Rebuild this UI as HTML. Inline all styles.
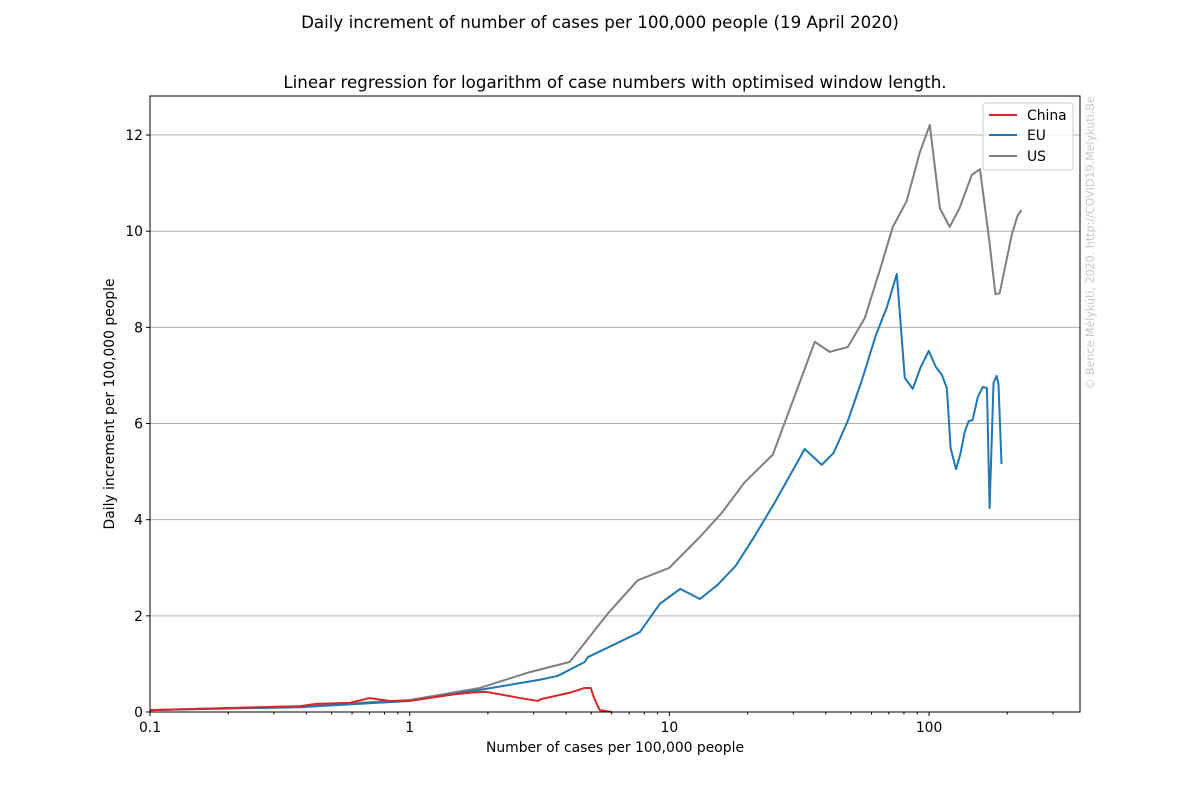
<!DOCTYPE html>
<html><head><meta charset="utf-8"><style>
body{margin:0;background:#fff;}
svg{display:block;font-family:"DejaVu Sans","Liberation Sans",sans-serif;}
</style></head><body>
<svg id="c" width="1200" height="800">
<text x="600" y="28" font-size="16.7" text-anchor="middle">Daily increment of number of cases per 100,000 people (19 April 2020)</text>
<text x="615" y="88" font-size="16.7" text-anchor="middle">Linear regression for logarithm of case numbers with optimised window length.</text>
<text x="615" y="752" font-size="13.9" text-anchor="middle">Number of cases per 100,000 people</text>
<text transform="translate(114,404) rotate(-90)" font-size="13.9" text-anchor="middle">Daily increment per 100,000 people</text>
<text transform="translate(1094,243) rotate(-90)" font-size="11.1" fill="#c8c8c8" text-anchor="middle">© Bence Mélykúti, 2020. http://COVID19.Melykuti.Be</text>
<g id="grid"></g><g id="series"></g><g id="axes"></g>
<g>
<rect x="983" y="103" width="90" height="67" rx="3" fill="#fff" fill-opacity="0.8" stroke="#ccc"/>
<g><line x1="989" y1="115" x2="1017" y2="115" stroke="#d62728" stroke-width="2"/><text x="1027" y="120" font-size="13.9">China</text></g>
<g><line x1="989" y1="135" x2="1017" y2="135" stroke="#1f77b4" stroke-width="2"/><text x="1027" y="140" font-size="13.9">EU</text></g>
<g><line x1="989" y1="156" x2="1017" y2="156" stroke="#7f7f7f" stroke-width="2"/><text x="1027" y="161" font-size="13.9">US</text></g>
</g>
</svg>
<script>
const chinaX=[0.1,0.377,0.435,0.588,0.701,0.838,1,1.49,1.7,1.96,2.22,2.66,3.11,3.22,4.13,4.72,4.98,5.11,5.25,5.39,6.0];
const chinaY=[0.04,0.12,0.17,0.19,0.29,0.23,0.23,0.37,0.4,0.42,0.37,0.29,0.23,0.27,0.4,0.5,0.5,0.31,0.17,0.04,0];
const euX=[0.1,0.377,1,1.86,3.17,3.71,4.72,4.85,7.69,9.19,11.0,13.1,15.3,18.0,21.3,25.4,33.2,38.6,42.9,48.6,55.1,62.4,68.8,75.1,80.6,86.5,92.9,99.7,106,112,117,121,127,132,137,142,147,154,161,167,171,177,182,185,190];
const euY=[0.04,0.1,0.23,0.46,0.67,0.75,1.04,1.14,1.66,2.25,2.56,2.35,2.64,3.04,3.66,4.35,5.47,5.14,5.39,6.05,6.9,7.84,8.42,9.11,6.95,6.72,7.18,7.51,7.18,7.01,6.74,5.49,5.05,5.37,5.82,6.05,6.07,6.55,6.76,6.74,4.24,6.84,6.99,6.82,5.16];
const usX=[0.1,0.377,1,1.86,2.9,4.13,5.78,7.55,10,13.1,15.9,19.5,25.0,36.3,41.4,48.6,56.5,64.6,72.5,82.0,92.0,100.6,110,120,131,146,157,171,180,187,208,219,227];
const usY=[0.04,0.12,0.25,0.5,0.83,1.04,2.04,2.74,3.0,3.64,4.14,4.78,5.35,7.7,7.49,7.59,8.19,9.19,10.09,10.63,11.63,12.21,10.48,10.09,10.48,11.17,11.29,9.75,8.69,8.71,9.92,10.32,10.44];
const xTicks=[0.1,1,10,100];const xTickLabels=["0.1","1","10","100"];
const yTicks=[0,2,4,6,8,10,12];
const L=150,R=1080,T=96,B=712;
const X=v=>L+(Math.log10(v)+1)*259.7;
const Y=v=>B-v*48.08;
const NS="http://www.w3.org/2000/svg";
function mk(tag,attrs,parent){const e=document.createElementNS(NS,tag);for(const k in attrs)e.setAttribute(k,attrs[k]);parent.appendChild(e);return e;}
const grid=document.getElementById('grid'),axes=document.getElementById('axes'),ser=document.getElementById('series');
yTicks.forEach(v=>{
 if(v>0){const g=mk('line',{x1:L,x2:R,y1:Y(v),y2:Y(v),stroke:'#b0b0b0','stroke-width':1},grid);
 
 }
 mk('line',{x1:L-4,x2:L,y1:Y(v),y2:Y(v),stroke:'#000'},axes);
 const t=mk('text',{x:L-7,y:Y(v)+5,'font-size':13.9,'text-anchor':'end'},axes);t.textContent=v;
 
 
});
xTicks.forEach((v,i)=>{
 mk('line',{x1:X(v),x2:X(v),y1:B,y2:B+4,stroke:'#000'},axes);
 const t=mk('text',{x:X(v),y:B+20,'font-size':13.9,'text-anchor':'middle'},axes);t.textContent=xTickLabels[i];
 
 
 for(let k=2;k<10;k++){const m=v*k;if(X(m)<=R)mk('line',{x1:X(m),x2:X(m),y1:B,y2:B+2.5,stroke:'#000'},axes);}
});
const fr=mk('rect',{x:L,y:T,width:R-L,height:B-T,fill:'none',stroke:'#000'},axes);


function line(xs,ys,color,name){
 const p=mk('polyline',{points:xs.map((x,i)=>X(x)+','+Y(ys[i])).join(' '),fill:'none',stroke:color,'stroke-width':2,'stroke-linejoin':'round'},ser);
 
 
}
line(usX,usY,'#7f7f7f','us-line');
line(euX,euY,'#1f77b4','eu-line');
line(chinaX,chinaY,'#d62728','china-line');
</script>
</body></html>
